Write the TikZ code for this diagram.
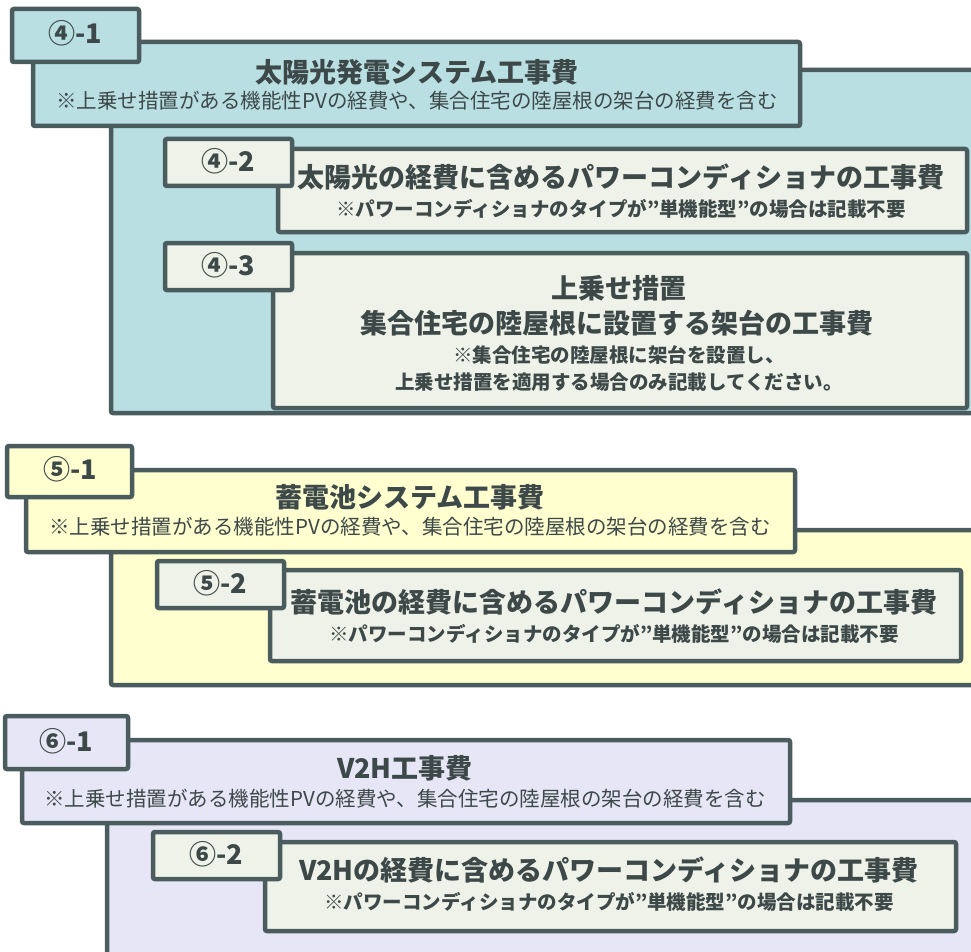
\documentclass[tikz,border=0pt]{standalone}
\usepackage{fontspec}
\newfontfamily\jp{Noto Sans CJK JP}
\definecolor{teal4}{HTML}{B9DFE2}
\definecolor{yel5}{HTML}{FFFFCF}
\definecolor{lav6}{HTML}{E6E6F6}
\definecolor{inner}{HTML}{EFF2E8}
\definecolor{edge}{HTML}{4A5C5D}
\definecolor{ink}{HTML}{3D4849}
\tikzset{
  box/.style={draw=edge, line width=4.5pt, rounded corners=2pt, inner sep=0pt, outer sep=0pt},
  txt/.style={text=ink, inner sep=0pt, font=\jp},
  big/.style={txt, font=\jp\bfseries\fontsize{27}{30}\selectfont},
  sub/.style={txt, font=\jp\fontsize{20.5}{23}\selectfont},
  note/.style={txt, font=\jp\bfseries\fontsize{19.5}{22}\selectfont},
  lab/.style={txt, font=\jp\bfseries\fontsize{27}{30}\selectfont},
}
\begin{document}
\begin{tikzpicture}[x=1pt,y=-1pt]
\useasboundingbox (0,0) rectangle (971,952);
\clip (0,0) rectangle (971,952);
% ---------- group 4
\node[box, fill=teal4, minimum width=889, minimum height=343] (bg4) at (555.5,241.5) {};
\node[box, fill=teal4, minimum width=767, minimum height=84] (t41) at (416.5,84) {};
\node[box, fill=teal4, minimum width=127, minimum height=53] (l41) at (75.5,35.5) {};
\node[box, fill=inner, minimum width=689, minimum height=83] (b42) at (622.5,190.5) {};
\node[box, fill=inner, minimum width=127, minimum height=47] (l42) at (228.5,162.5) {};
\node[box, fill=inner, minimum width=694, minimum height=155] (b43) at (620,330.5) {};
\node[box, fill=inner, minimum width=127, minimum height=47] (l43) at (228.5,266.5) {};
\node[big] (t41a) at (417,72) {太陽光発電システム工事費};
\node[sub] (t41b) at (417,101) {※上乗せ措置がある機能性PVの経費や、集合住宅の陸屋根の架台の経費を含む};
\node[lab] (l41t) at (75,33) {④-1};
\node[big] (b42a) at (621,177) {太陽光の経費に含めるパワーコンディショナの工事費};
\node[note] (b42b) at (621,209) {※パワーコンディショナのタイプが”単機能型”の場合は記載不要};
\node[lab] (l42t) at (228,161) {④-2};
\node[lab] (l43t) at (228,265) {④-3};
\node[big] (b43a) at (619,288) {上乗せ措置};
\node[big] (b43b) at (617,323) {集合住宅の陸屋根に設置する架台の工事費};
\node[note] (b43c) at (619,355) {※集合住宅の陸屋根に架台を設置し、};
\node[note] (b43d) at (619,382) {上乗せ措置を適用する場合のみ記載してください。};
% ---------- group 5
\node[box, fill=yel5, minimum width=889, minimum height=155] (bg5) at (555.5,607.5) {};
\node[box, fill=yel5, minimum width=769, minimum height=82] (t51) at (410.5,511) {};
\node[box, fill=yel5, minimum width=125, minimum height=51] (l51) at (69.5,471.5) {};
\node[box, fill=inner, minimum width=691, minimum height=91] (b52) at (615.5,615.5) {};
\node[box, fill=inner, minimum width=127, minimum height=47] (l52) at (220.5,584.5) {};
\node[big] (t51a) at (410,497) {蓄電池システム工事費};
\node[sub] (t51b) at (410,527) {※上乗せ措置がある機能性PVの経費や、集合住宅の陸屋根の架台の経費を含む};
\node[lab] (l51t) at (70,469) {⑤-1};
\node[big] (b52a) at (614,602) {蓄電池の経費に含めるパワーコンディショナの工事費};
\node[note] (b52b) at (614,634) {※パワーコンディショナのタイプが”単機能型”の場合は記載不要};
\node[lab] (l52t) at (220,583) {⑤-2};
% ---------- group 6
\node[box, fill=lav6, minimum width=893, minimum height=200] (bg6) at (553.5,900) {};
\node[box, fill=lav6, minimum width=768, minimum height=83] (t61) at (406,781.5) {};
\node[box, fill=lav6, minimum width=123, minimum height=53] (l61) at (66.5,742.5) {};
\node[box, fill=inner, minimum width=691, minimum height=89] (b62) at (610.5,886.5) {};
\node[box, fill=inner, minimum width=127, minimum height=47] (l62) at (216.5,855.5) {};
\node[big] (t61a) at (405,768) {V2H工事費};
\node[sub] (t61b) at (405,799) {※上乗せ措置がある機能性PVの経費や、集合住宅の陸屋根の架台の経費を含む};
\node[lab] (l61t) at (66,741) {⑥-1};
\node[big] (b62a) at (609,870) {V2Hの経費に含めるパワーコンディショナの工事費};
\node[note] (b62b) at (609,902) {※パワーコンディショナのタイプが”単機能型”の場合は記載不要};
\node[lab] (l62t) at (216,854) {⑥-2};
\end{tikzpicture}
\end{document}
